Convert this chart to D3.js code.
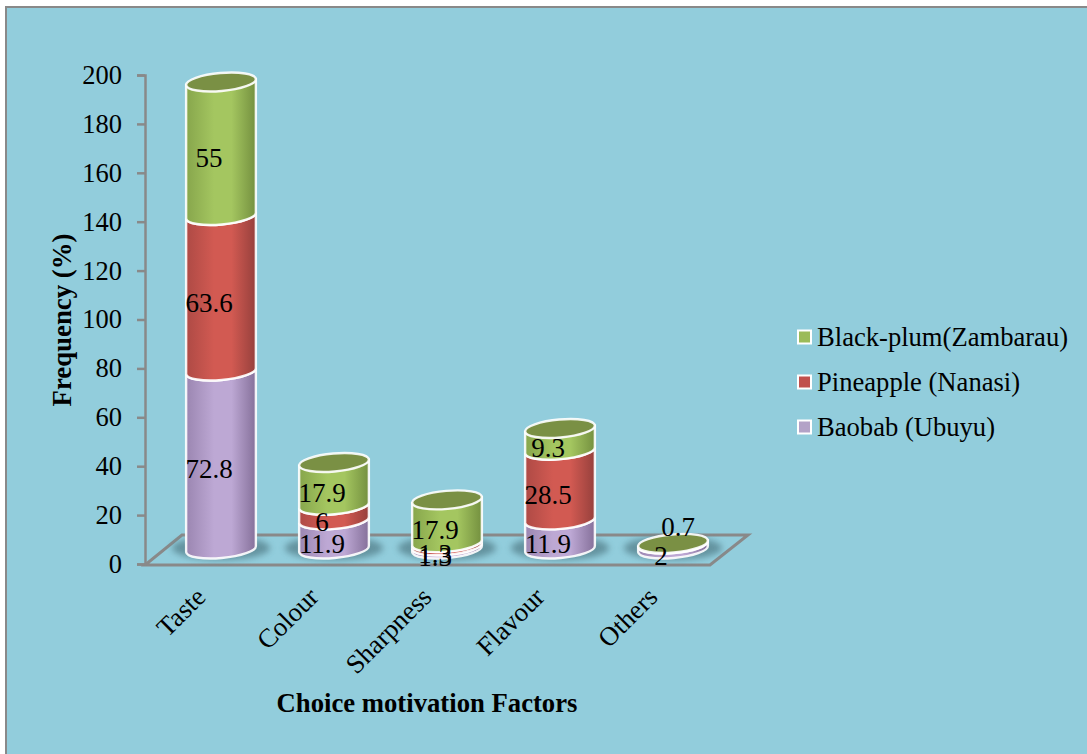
<!DOCTYPE html>
<html>
<head>
<meta charset="utf-8">
<style>
  html, body { margin: 0; padding: 0; background: #fff; }
  svg { display: block; }
  text { font-family: "Liberation Serif", serif; fill: #000; }
</style>
</head>
<body>
<div class="chart"></div>
<script src="https://cdn.jsdelivr.net/npm/d3@7"></script>
<script>
const categories = ['Taste', 'Colour', 'Sharpness', 'Flavour', 'Others']
const baobab = [72.8, 11.9, 1.3, 11.9, 2]
const pineapple = [63.6, 6, 1.3, 28.5, 0]
const blackPlum = [55, 17.9, 17.9, 9.3, 0.7]
const seriesNames = ['Baobab (Ubuyu)', 'Pineapple (Nanasi)', 'Black-plum(Zambarau)']
const yTicks = [0, 20, 40, 60, 80, 100, 120, 140, 160, 180, 200]

const width = 1087
const height = 754

const colors = [
  {edge: '#85709a', mid: '#bda8d4', flat: '#b3a2c7', cap: '#8d7ba3'},
  {edge: '#96403c', mid: '#d25a52', flat: '#c0504d', cap: '#963f3c'},
  {edge: '#74903f', mid: '#a4c660', flat: '#9bbb59', cap: '#7a9044'}
]

const svg = d3.select('.chart')
  .append('svg')
    .attr('width', width)
    .attr('height', height)

const defs = svg.append('defs')
colors.forEach((c, i) => {
  const grad = defs.append('linearGradient').attr('id', `side${i}`)
  grad.append('stop').attr('offset', '0%').attr('stop-color', d3.interpolateRgb(c.edge, c.mid)(0.4))
  grad.append('stop').attr('offset', '40%').attr('stop-color', c.mid)
  grad.append('stop').attr('offset', '65%').attr('stop-color', c.mid)
  grad.append('stop').attr('offset', '100%').attr('stop-color', c.edge)
})
defs.append('filter')
    .attr('id', 'soft')
    .attr('x', '-30%').attr('y', '-60%')
    .attr('width', '160%').attr('height', '220%')
  .append('feGaussianBlur')
    .attr('stdDeviation', 3)

// panel
svg.append('rect')
  .attr('x', 6)
  .attr('y', 7)
  .attr('width', width + 20)
  .attr('height', height + 20)
  .attr('fill', '#92cddc')
  .attr('stroke', '#898989')
  .attr('stroke-width', 2)

const yScale = d3.scaleLinear()
  .domain([0, 200])
  .range([564, 75])

const xScale = d3.scaleBand()
  .domain(categories)
  .range([164.5, 729.5])

// the rotated labels hang from the front edge of the floor
const xLabelScale = d3.scalePoint()
  .domain(categories)
  .range([200, 652])

// floor of the 3d plot
const floorFront = {x0: 145, x1: 710, y: 565}
const floorBack = {x0: 182, x1: 748, y: 535}
svg.append('path')
  .attr('d', d3.line()([
    [floorFront.x0, floorFront.y],
    [floorFront.x1, floorFront.y],
    [floorBack.x1, floorBack.y],
    [floorBack.x0, floorBack.y]
  ]) + 'Z')
  .attr('fill', 'none')
  .attr('stroke', '#898989')
  .attr('stroke-width', 3)

// y axis
const yAxis = d3.axisLeft(yScale)
  .tickValues(yTicks)
  .tickSize(8)
  .tickPadding(15)
const yAxisG = svg.append('g')
  .attr('transform', `translate(${floorFront.x0}, 0)`)
  .call(yAxis)
yAxisG.selectAll('path, line')
  .attr('stroke', '#898989')
  .attr('stroke-width', 2.5)
yAxisG.selectAll('text')
  .style('font-size', '26.5px')
  .style('font-family', '"Liberation Serif", serif')
  .attr('fill', '#000')

// x axis, labels only
const xAxis = d3.axisBottom(xLabelScale).tickSize(0).tickPadding(0)
const xAxisG = svg.append('g')
  .attr('transform', 'translate(0, 592)')
  .call(xAxis)
xAxisG.select('.domain').remove()
xAxisG.selectAll('text')
  .style('font-size', '26.7px')
  .style('font-family', '"Liberation Serif", serif')
  .attr('fill', '#000')
  .attr('text-anchor', 'end')
  .attr('y', 0)
  .attr('dy', '0.35em')
  .attr('transform', 'rotate(-45)')

// stack the three series
const table = categories.map((c, i) => ({
  category: c,
  s0: baobab[i],
  s1: pineapple[i],
  s2: blackPlum[i]
}))
const stacked = d3.stack().keys(['s0', 's1', 's2'])(table)

// cylinders
const rx = 35
const ry = 9
const tilt = -5
const depth = 15
const cosT = Math.cos(tilt * Math.PI / 180)
const sinT = Math.sin(tilt * Math.PI / 180)
const ends = (cx, cy) => ({
  lx: cx - rx * cosT, ly: cy - rx * sinT,
  rx: cx + rx * cosT, ry: cy + rx * sinT
})
const sidePath = (cx, v0, v1) => {
  const b = ends(cx, yScale(v0) - depth)
  const t = ends(cx, yScale(v1) - depth)
  return `M${t.lx},${t.ly}L${b.lx},${b.ly}` +
    `A${rx},${ry} ${tilt} 0 0 ${b.rx},${b.ry}` +
    `L${t.rx},${t.ry}` +
    `A${rx},${ry} ${tilt} 0 1 ${t.lx},${t.ly}Z`
}

const bars = svg.selectAll('.bar')
  .data(categories)
  .enter()
  .append('g')
    .attr('class', 'bar')
    .attr('data-category', d => d)

// blurred shadow on the floor
bars.append('ellipse')
  .attr('cx', d => xScale(d) + xScale.bandwidth() / 2)
  .attr('cy', yScale(0) - depth - 1)
  .attr('rx', rx + 14)
  .attr('ry', ry + 3)
  .attr('fill', '#5f8d99')
  .attr('opacity', 0.9)
  .attr('filter', 'url(#soft)')

stacked.forEach((layer, s) => {
  bars.append('path')
    .attr('class', 'segment')
    .attr('d', (d, i) => {
      const v = layer[i]
      if (v[1] === v[0]) return null
      return sidePath(xScale(d) + xScale.bandwidth() / 2, v[0], v[1])
    })
    .attr('fill', `url(#side${s})`)
    .attr('stroke', '#fff')
    .attr('stroke-width', 2.4)
    .attr('stroke-opacity', 0.9)
})

// top cap
bars.append('ellipse')
  .attr('transform', (d, i) => {
    const cx = xScale(d) + xScale.bandwidth() / 2
    const cy = yScale(stacked[2][i][1]) - depth + 1
    return `translate(${cx}, ${cy}) rotate(${tilt})`
  })
  .attr('rx', rx)
  .attr('ry', ry)
  .attr('fill', colors[2].cap)
  .attr('stroke', '#fff')
  .attr('stroke-width', 2.4)
  .attr('stroke-opacity', 0.9)

// data labels, with the one that the original moved by hand
const labelShift = {'Others|2': [17, -26]}
stacked.forEach((layer, s) => {
  svg.append('g')
    .selectAll('text')
    .data(layer.map((v, i) => ({
      category: categories[i],
      s,
      value: v[1] - v[0],
      mid: (v[0] + v[1]) / 2
    })).filter(d => d.value > 0))
    .enter()
    .append('text')
      .attr('x', d => {
        const shift = labelShift[`${d.category}|${d.s}`]
        return xScale(d.category) + xScale.bandwidth() / 2 - 12 + (shift ? shift[0] : 0)
      })
      .attr('y', d => {
        const shift = labelShift[`${d.category}|${d.s}`]
        return yScale(d.mid) - 6 + (shift ? shift[1] : 0)
      })
      .attr('dy', '0.35em')
      .attr('text-anchor', 'middle')
      .style('font-size', '27px')
      .text(d => +d.value.toFixed(1))
})

// legend, top entry is the last series
const legendY = d3.scalePoint()
  .domain([2, 1, 0])
  .range([337, 427])
const legend = svg.selectAll('.legend')
  .data([2, 1, 0])
  .enter()
  .append('g')
    .attr('class', 'legend')
    .attr('transform', d => `translate(0, ${legendY(d)})`)
legend.append('rect')
  .attr('x', 798)
  .attr('y', -6.5)
  .attr('width', 13)
  .attr('height', 13)
  .attr('fill', d => colors[d].flat)
  .attr('stroke', '#fff')
  .attr('stroke-width', 2)
legend.append('text')
  .attr('x', 817)
  .attr('dy', '0.33em')
  .style('font-size', '26.6px')
  .text(d => seriesNames[d])

// axis titles
svg.append('text')
  .attr('transform', 'translate(62, 320) rotate(-90)')
  .attr('dy', '0.33em')
  .attr('text-anchor', 'middle')
  .style('font-size', '26.8px')
  .style('font-weight', 'bold')
  .text('Frequency (%)')
svg.append('text')
  .attr('x', 427)
  .attr('y', 703)
  .attr('dy', '0.33em')
  .attr('text-anchor', 'middle')
  .style('font-size', '26.7px')
  .style('font-weight', 'bold')
  .text('Choice motivation Factors')
</script>
</body>
</html>
